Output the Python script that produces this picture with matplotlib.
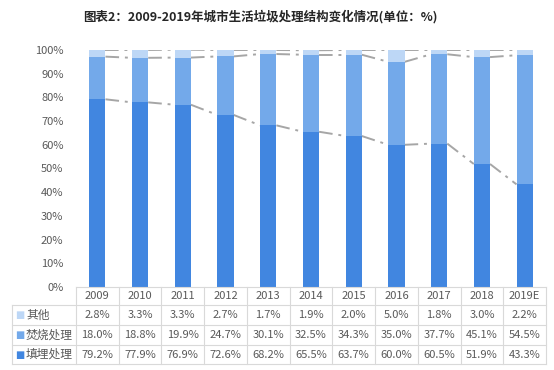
import numpy as np
import matplotlib
matplotlib.use("Agg")
import matplotlib.pyplot as plt
from matplotlib.transforms import blended_transform_factory
from matplotlib.ticker import PercentFormatter

plt.rcParams['font.family'] = ['Noto Sans CJK SC', 'DejaVu Sans']

years = ['2009', '2010', '2011', '2012', '2013', '2014', '2015', '2016', '2017', '2018', '2019E']
other = [2.8, 3.3, 3.3, 2.7, 1.7, 1.9, 2.0, 5.0, 1.8, 3.0, 2.2]
burn = [18.0, 18.8, 19.9, 24.7, 30.1, 32.5, 34.3, 35.0, 37.7, 45.1, 54.5]
landfill = [79.2, 77.9, 76.9, 72.6, 68.2, 65.5, 63.7, 60.0, 60.5, 51.9, 43.3]

series = [('其他', other, '#BDD7F6'),
          ('焚烧处理', burn, '#73A9EA'),
          ('填埋处理', landfill, '#4186E0')]

W, H = 554, 370
fig = plt.figure(figsize=(W / 100, H / 100), dpi=100)
ax = fig.add_axes([76 / W, (H - 287) / H, 470 / W, 237 / H])

x = np.arange(len(years))
bw = 0.38
bottom_vals = np.array(landfill)
mid_vals = np.array(burn)
top_vals = np.array(other)

ax.bar(x, bottom_vals, bw, color='#4186E0', zorder=2)
ax.bar(x, mid_vals, bw, bottom=bottom_vals, color='#73A9EA', zorder=2)
ax.bar(x, top_vals, bw, bottom=bottom_vals + mid_vals, color='#BDD7F6', zorder=2)

# series lines between bars
for level in [bottom_vals, bottom_vals + mid_vals, bottom_vals + mid_vals + top_vals]:
    for i in range(len(x) - 1):
        ax.plot([x[i] + bw / 2, x[i + 1] - bw / 2], [level[i], level[i + 1]],
                color='#A6A6A6', lw=1.4, ls=(0, (7, 3, 1.5, 3)), zorder=1)

ax.set_xlim(-0.5, len(years) - 0.5)
ax.set_ylim(0, 100)
ax.set_yticks(np.arange(0, 101, 10))
ax.yaxis.set_major_formatter(PercentFormatter(100, decimals=0))
ax.tick_params(axis='y', length=0, labelsize=8, labelcolor='#595959', pad=9)
ax.set_xticks([])
for s in ['top', 'right', 'left']:
    ax.spines[s].set_visible(False)
ax.spines['bottom'].set_color('#D9D9D9')
ax.spines['bottom'].set_linewidth(0.8)

# data table below the axes
tr = blended_transform_factory(ax.transData, ax.transAxes)
rows_y = [0, -0.076, -0.160, -0.245, -0.325]
left = -0.5 - 64 / 42.7
lc = '#D9D9D9'
lkw = dict(color=lc, lw=0.8, transform=tr, clip_on=False)
for yb in rows_y[1:]:
    ax.plot([left, len(years) - 0.5], [yb, yb], **lkw)
for i in range(len(years) + 1):
    ax.plot([i - 0.5, i - 0.5], [rows_y[0], rows_y[-1]], **lkw)
ax.plot([left, left], [rows_y[1], rows_y[-1]], **lkw)

for i, yr in enumerate(years):
    ax.text(i, (rows_y[0] + rows_y[1]) / 2, yr, transform=tr, ha='center', va='center',
            fontsize=8, color='#595959')
for r, (name, vals, col) in enumerate(series):
    yc = (rows_y[r + 1] + rows_y[r + 2]) / 2
    for i, v in enumerate(vals):
        ax.text(i, yc, f'{v:.1f}%', transform=tr, ha='center', va='center',
                fontsize=8, color='#595959')
    ax.text(left + 0.08, yc, '■', transform=tr, ha='left', va='center',
            fontsize=7, color=col, family='DejaVu Sans')
    ax.text(left + 0.33, yc, name, transform=tr, ha='left', va='center',
            fontsize=8.5, color='#595959')

fig.text(260 / W, 1 - 17 / H, '图表2：2009-2019年城市生活垃圾处理结构变化情况(单位：%)',
         ha='center', va='center', fontsize=9, fontweight='bold', color='#262626')

fig.savefig('out.png', dpi=100)
